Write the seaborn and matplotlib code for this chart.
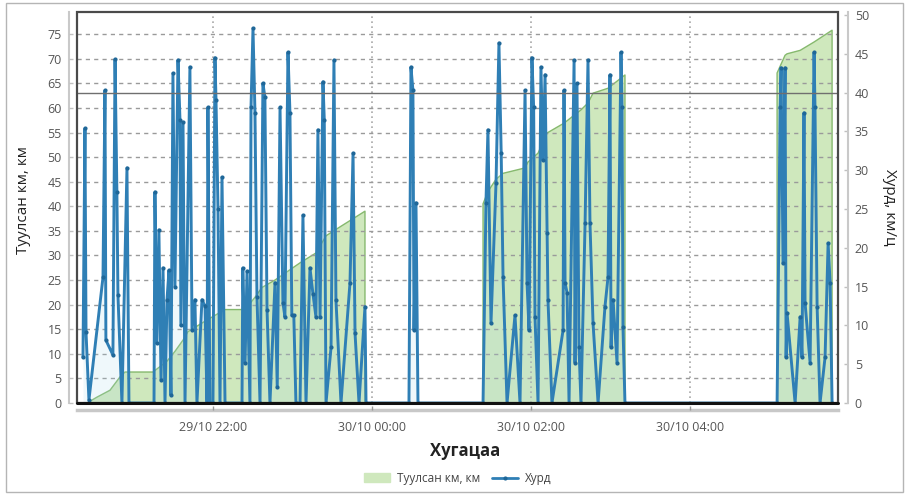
import numpy as np
import pandas as pd
import matplotlib
matplotlib.use("Agg")
import matplotlib.pyplot as plt
import matplotlib.dates as mdates
import seaborn as sns
from matplotlib.patches import Rectangle, Patch
from matplotlib.lines import Line2D

# ---------------- data ----------------
start_time = "2015-10-29 20:00"
dist_label = "Туулсан км, км"
speed_label = "Хурд"
x_title = "Хугацаа"
left_title = "Туулсан км, км"
right_title = "Хурд, км/ц"
speed_limit = 40

# minutes after start_time
dist_min = [24.9, 32.5, 42.3, 49.8, 53.6, 74.7, 85.3, 91.3, 97.4, 101.1, 116.2, 129.1, 144.2,
            151.7, 157.0, 166.8, 185.7, 197.7, 205.3, 215.8, 234.7, 236.0,
            323.8, 327.5, 333.6, 338.9, 355.5, 357.7, 365.3, 372.1, 384.9, 397.7, 403.0,
            406.8, 418.1, 430.9, 432.0,
            545.7, 551.7, 553.2, 563.1, 573.6, 587.2]
dist_km = [0.0, 1.2, 2.6, 5.3, 6.3, 6.3, 8.5, 10.5, 12.8, 14.5, 17.0, 19.0, 19.0,
           21.5, 23.5, 25.0, 28.5, 30.5, 34.0, 35.8, 39.0, np.nan,
           40.5, 43.0, 45.5, 46.7, 47.8, 49.0, 50.8, 54.9, 56.9, 59.6, 61.0,
           63.0, 64.0, 66.7, np.nan,
           67.1, 70.7, 71.0, 71.7, 73.4, 75.8]

speed_min = [21.9, 23.4, 24.2, 26.4, 37.0, 38.5, 39.2, 44.5, 46.1, 47.5, 48.3, 51.3, 55.1, 56.6,
             75.5, 76.2, 77.7, 79.2, 80.8, 82.3, 83.8, 85.3, 86.8, 88.3, 89.8, 91.3, 93.6, 95.1,
             95.8, 97.4, 98.9, 102.6, 104.2, 106.4, 107.9, 111.7, 114.0, 115.5, 116.2, 117.7,
             120.0, 121.5, 122.3, 123.8, 125.3, 126.8, 129.1, 141.9, 142.5, 144.2, 145.7, 147.9,
             148.7, 150.2, 151.7, 153.2, 155.5, 157.7, 159.2, 160.8, 163.0, 166.8, 168.5, 170.6,
             172.8, 174.3, 176.6, 178.1, 179.5, 181.0, 182.6, 185.7, 187.9, 190.2, 193.2, 195.5,
             197.7, 199.2, 200.8, 203.0, 204.0, 205.3, 209.1, 211.3, 212.8, 216.6, 223.4, 225.7,
             227.2, 230.2, 234.7, 235.5,
             267.9, 269.4, 270.9, 271.7, 273.2, 274.7,
             323.8, 326.0, 327.5, 329.8, 333.6, 335.8, 337.5, 338.9, 341.9, 347.9, 351.7, 355.5,
             357.0, 358.5, 360.7, 362.0, 363.0, 365.3, 367.5, 369.1, 370.6, 372.1, 372.8, 375.8,
             384.2, 384.9, 385.7, 387.2, 388.7, 392.5, 393.2, 394.7, 396.2, 397.7, 400.8, 403.0,
             404.5, 406.8, 410.6, 415.8, 418.1, 419.6, 420.4, 421.9, 424.9, 427.9, 428.7, 429.4,
             430.9,
             545.7, 548.0, 548.7, 550.2, 551.7, 552.5, 553.2, 559.3, 563.1, 564.5, 566.0, 566.8,
             570.6, 573.6, 574.3, 575.9, 578.1, 581.9, 584.2, 585.7, 587.2]
speed_kmh = [5.9, 35.4, 9.1, 0.4, 16.2, 40.3, 8.1, 6.2, 44.3, 27.2, 13.9, 0.0, 30.3, 0.0,
             0.0, 27.2, 7.7, 22.3, 3.0, 17.4, 0.0, 13.3, 17.1, 1.0, 42.5, 15.0, 44.2, 36.5,
             10.0, 36.2, 0.0, 43.3, 9.4, 13.3, 0.0, 13.3, 12.5, 0.0, 38.1, 0.0,
             0.0, 44.5, 39.0, 25.0, 0.0, 29.1, 0.0, 0.0, 17.4, 5.2, 17.0, 0.0,
             38.1, 48.3, 37.4, 13.7, 0.0, 41.2, 39.4, 12.0, 0.0, 15.5, 2.0, 38.1,
             12.9, 11.1, 45.2, 37.4, 11.3, 11.3, 0.0, 0.0, 24.2, 0.0, 17.4, 14.0,
             11.1, 35.2, 11.1, 41.4, 36.5, 0.0, 7.2, 44.2, 13.3, 0.0, 15.5, 32.2,
             9.0, 0.0, 12.4, 0.0,
             0.0, 43.3, 40.3, 9.4, 25.8, 0.0,
             0.0, 25.8, 35.2, 10.3, 28.4, 46.4, 32.2, 16.2, 0.0, 11.3, 0.0, 40.3,
             15.5, 9.4, 44.5, 38.1, 11.1, 0.0, 43.3, 31.3, 42.3, 21.9, 13.3, 0.0,
             9.4, 40.3, 15.5, 14.2, 0.0, 44.2, 5.2, 41.2, 7.2, 0.0, 23.2, 44.2,
             23.2, 10.3, 0.0, 12.4, 16.2, 42.3, 7.2, 13.3, 5.2, 45.2, 38.1, 9.8,
             0.0,
             0.0, 38.1, 43.2, 18.0, 43.2, 5.9, 11.6, 0.0, 11.1, 5.9, 37.4, 12.9,
             5.2, 45.2, 38.1, 12.4, 0.0, 5.9, 20.6, 15.5, 0.0]

# ---------------- frames ----------------
t0 = pd.Timestamp(start_time)
dist_df = pd.DataFrame({"time": t0 + pd.to_timedelta(dist_min, unit="min"), "km": dist_km})
speed_df = pd.DataFrame({"time": t0 + pd.to_timedelta(speed_min, unit="min"), "speed": speed_kmh})

sns.set_theme(style="white")
plt.rcParams["font.family"] = ["Open Sans", "DejaVu Sans"]

fig = plt.figure(figsize=(9.06, 4.94), dpi=100)
ax = fig.add_axes([0.085, 0.1842, 0.840, 0.7915])
ax2 = ax.twinx()

green_fill = "#cfe8bd"
green_edge = "#86b96e"
blue = "#2f7fb5"
blue_dark = "#1f6798"

# distance area
ax.fill_between(dist_df["time"], 0, dist_df["km"], facecolor=green_fill,
                edgecolor=green_edge, linewidth=1.0, zorder=1)
ax.set_ylim(0, 79.5)
ax.set_yticks(range(0, 80, 5))
ax.set_axisbelow(False)
ax.grid(axis="y", color="#9a9a9a", linestyle=(0, (3, 3)), linewidth=1.0, zorder=2)
ax.grid(axis="x", color="#a8a8a8", linestyle=(0, (1, 2)), linewidth=1.2, zorder=2)

# speed line
ax2.fill_between(speed_df["time"], 0, speed_df["speed"], color="#a9dcec", alpha=0.18,
                 linewidth=0, zorder=1)
sns.lineplot(data=speed_df, x="time", y="speed", ax=ax2, color=blue, linewidth=2.1,
             marker="o", markersize=3, markeredgewidth=0, markerfacecolor=blue_dark,
             estimator=None, sort=True, zorder=3)
ax2.axhline(speed_limit, color="#6f6f6f", linewidth=1.0, zorder=4)
ax2.set_ylim(0, 50.4)
ax2.set_yticks(range(0, 51, 5))

xmin = t0 + pd.Timedelta(minutes=17.4)
xmax = t0 + pd.Timedelta(minutes=591.7)
ax.set_xlim(xmin, xmax)
ax.xaxis.set_major_locator(mdates.HourLocator(byhour=range(0, 24, 2)))
ax.xaxis.set_major_formatter(mdates.DateFormatter("%d/%m %H:%M"))

# spines / axes lines
for s in ["top", "right"]:
    ax.spines[s].set_visible(False)
for s in ["top", "left", "bottom"]:
    ax2.spines[s].set_visible(False)
ax.spines["left"].set_position(("outward", 6))
ax.spines["left"].set_color("#c9c9c9")
ax.spines["left"].set_linewidth(1.5)
ax.spines["bottom"].set_position(("outward", 5))
ax.spines["bottom"].set_color("#c8c8c8")
ax.spines["bottom"].set_linewidth(2.5)
ax2.spines["right"].set_position(("outward", 7))
ax2.spines["right"].set_color("#c9c9c9")
ax2.spines["right"].set_linewidth(1.5)

tick_col = "#555555"
ax.tick_params(axis="y", colors="#c0c0c0", labelcolor=tick_col, labelsize=9,
               length=3, width=1, direction="in", pad=5, left=True)
ax2.tick_params(axis="y", colors="#c0c0c0", labelcolor=tick_col, labelsize=9,
                length=3, width=1, direction="in", pad=5, right=True)
ax.tick_params(axis="x", colors="#999999", labelcolor=tick_col, labelsize=9,
               length=3, width=1, direction="in", pad=8, bottom=True)

ax.set_xlabel(x_title, fontsize=12, fontweight="bold", color="#222222")
ax.xaxis.set_label_coords(0.51, -0.10)
ax.set_ylabel(left_title, fontsize=11, color="#222222")
ax.yaxis.set_label_coords(-0.06, 0.52)
ax2.set_ylabel(right_title, fontsize=11, color="#222222", rotation=-90, va="center")
ax2.yaxis.set_label_coords(1.067, 0.5)

# plot frame
ax2.add_patch(Rectangle((0, 0), 1, 1, transform=ax2.transAxes, fill=False,
                        edgecolor="#4a4a4a", linewidth=1.6, clip_on=False, zorder=10))
ax2.plot([0, 1], [0, 0], transform=ax2.transAxes, color="#111111", linewidth=2.2,
         clip_on=False, zorder=11)

# outer border
fig.add_artist(Rectangle((0.007, 0.004), 0.990, 0.990, transform=fig.transFigure,
                         fill=False, edgecolor="#b5b5b5", linewidth=1.0))

handles = [Patch(facecolor=green_fill, edgecolor=green_fill),
           Line2D([], [], color=blue, linewidth=2, marker="o", markersize=3,
                  markerfacecolor=blue_dark, markeredgewidth=0)]
fig.legend(handles, [dist_label, speed_label], loc="center", bbox_to_anchor=(0.505, 0.032),
           ncol=2, frameon=False, fontsize=8.5, handlelength=2.2, columnspacing=1.0,
           handletextpad=0.6, labelcolor="#444444")

fig.savefig("out.png", dpi=100)
